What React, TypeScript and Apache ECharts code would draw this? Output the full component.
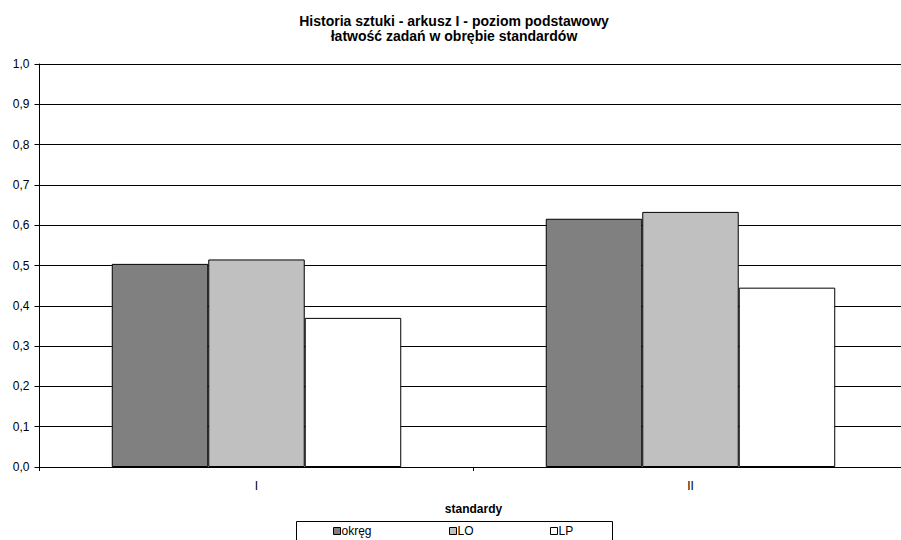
import React, { useEffect, useRef } from "react";
import * as echarts from "echarts";

const categories = ["I", "II"];
const okreg = [0.504, 0.616];
const lo = [0.515, 0.633];
const lp = [0.37, 0.445];
const yTicks = [0, 0.1, 0.2, 0.3, 0.4, 0.5, 0.6, 0.7, 0.8, 0.9, 1.0];

const FONT = "'Liberation Sans', Arial, sans-serif";

export default function App() {
  const ref = useRef<HTMLDivElement>(null);
  useEffect(() => {
    if (!ref.current) return;
    const chart = echarts.init(ref.current, null, { renderer: "svg" });
    const barStyle = (color: string) => ({
      color,
      borderColor: "#000",
      borderWidth: 1,
    });
    const legendBase = {
      top: 525,
      icon: "rect",
      itemWidth: 7,
      itemHeight: 7,
      itemGap: 0,
      textStyle: { fontFamily: FONT, fontSize: 12, color: "#000", padding: [0, 0, 0, -4] },
      padding: 0,
    };
    chart.setOption({
      animation: false,
      backgroundColor: "#fff",
      textStyle: { fontFamily: FONT },
      title: {
        text: "Historia sztuki - arkusz I - poziom podstawowy\nłatwość zadań w obrębie standardów",
        left: "center",
        top: 8,
        textStyle: { fontFamily: FONT, fontSize: 14, fontWeight: "bold", color: "#000", lineHeight: 15 },
      },
      legend: [
        { ...legendBase, left: 333, data: [{ name: "okręg", itemStyle: { borderColor: "#000", borderWidth: 1 } }] },
        { ...legendBase, left: 449, data: [{ name: "LO", itemStyle: { borderColor: "#000", borderWidth: 1 } }] },
        { ...legendBase, left: 550, data: [{ name: "LP", itemStyle: { borderColor: "#000", borderWidth: 1 } }] },
      ],
      graphic: [
        {
          type: "rect",
          shape: { x: 296.5, y: 521.5, width: 316, height: 40 },
          style: { fill: "none", stroke: "#000", lineWidth: 1 },
          z: 0,
        },
      ],
      grid: { left: 39.5, right: 0.5, top: 64, bottom: 73, containLabel: false },
      xAxis: {
        type: "category",
        data: categories,
        name: "standardy",
        nameLocation: "middle",
        nameGap: 36,
        nameTextStyle: { fontFamily: FONT, fontSize: 12, fontWeight: "bold", color: "#000" },
        axisLine: { lineStyle: { color: "#000", width: 1 } },
        axisTick: { show: true, length: 4, lineStyle: { color: "#000" } },
        axisLabel: { fontFamily: FONT, fontSize: 12, color: "#000", margin: 13 },
      },
      yAxis: {
        type: "value",
        min: 0,
        max: 1,
        interval: 0.1,
        axisLine: { show: true, lineStyle: { color: "#000", width: 1 } },
        axisTick: { show: true, length: 5, lineStyle: { color: "#000" } },
        axisLabel: {
          fontFamily: FONT,
          fontSize: 12,
          color: "#000",
          margin: 10,
          formatter: (v: number) => {
            const t = yTicks.find((x) => Math.abs(x - v) < 1e-9);
            return (t !== undefined ? t : v).toFixed(1).replace(".", ",");
          },
        },
        splitLine: { show: true, lineStyle: { color: "#000", width: 1 } },
      },
      series: [
        { name: "okręg", type: "bar", data: okreg, itemStyle: barStyle("#808080"), barGap: "0%", barCategoryGap: "33.3%" },
        { name: "LO", type: "bar", data: lo, itemStyle: barStyle("#C0C0C0"), barGap: "0%", barCategoryGap: "33.3%" },
        { name: "LP", type: "bar", data: lp, itemStyle: barStyle("#FFFFFF"), barGap: "0%", barCategoryGap: "33.3%" },
      ],
    });
    return () => chart.dispose();
  }, []);
  return (
    <div
      ref={ref}
      style={{ position: "fixed", left: 0, top: 0, width: 908, height: 540, background: "#fff" }}
    />
  );
}
